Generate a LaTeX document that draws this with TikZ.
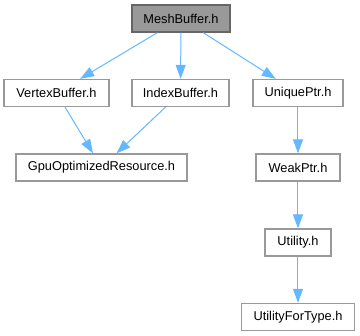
\documentclass[tikz,border=0pt]{standalone}
\usepackage{fontspec}
\setmainfont{Liberation Sans}
\usetikzlibrary{arrows.meta}
\definecolor{edgeblue}{HTML}{63B8FF}
\definecolor{rootfill}{HTML}{999999}
\definecolor{rootline}{HTML}{666666}
\definecolor{fileline}{HTML}{999999}
\tikzset{
    file/.style={draw=fileline, fill=white, line width=1.3pt,
        minimum height=27pt, inner sep=0pt,
        font=\fontsize{12.8}{14}\selectfont},
    root/.style={file, draw=rootline, fill=rootfill},
    dep/.style={edgeblue, line width=1pt,
        -{Triangle[length=14pt,width=10pt]}}
}
\begin{document}
\begin{tikzpicture}[x=1pt,y=-1pt]
                \useasboundingbox (0,0) rectangle (360,336);

                % files
                \node[root, minimum width=98pt]  (mesh)   at (181,18.5)  {MeshBuffer.h};
                \node[file, minimum width=105pt] (vertex) at (56.5,93)   {VertexBuffer.h};
                \node[file, minimum width=97pt]  (index)  at (180.5,93)  {IndexBuffer.h};
                \node[file, minimum width=90pt]  (unique) at (298,93)    {UniquePtr.h};
                \node[file, minimum width=171pt] (gpu)    at (101.5,167.5) {GpuOptimizedResource.h};
                \node[file, minimum width=84pt]  (weak)   at (298,167.5) {WeakPtr.h};
                \node[file, minimum width=66pt]  (util)   at (298,242.5) {Utility.h};
                \node[file, minimum width=113pt] (uftype) at (298,317)   {UtilityForType.h};

                % includes
                \draw[dep] (mesh) -- (vertex);
                \draw[dep] (mesh) -- (index);
                \draw[dep] (mesh) -- (unique);
                \draw[dep] (vertex) -- (gpu);
                \draw[dep] (index) -- (gpu);
                \draw[dep] (unique) -- (weak);
                \draw[dep] (weak) -- (util);
                \draw[dep] (util) -- (uftype);
            \end{tikzpicture}
\end{document}
